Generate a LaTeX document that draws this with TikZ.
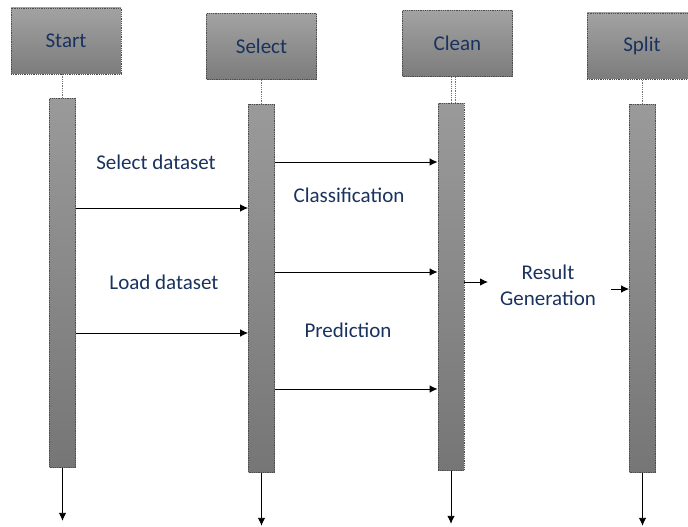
\documentclass[tikz,border=0pt]{standalone}
\usepackage{fontspec}
\setmainfont{Carlito}
\usetikzlibrary{arrows.meta,positioning,calc}
\definecolor{navy}{RGB}{26,50,94}
\definecolor{steel}{RGB}{162,162,162}
\definecolor{slate}{RGB}{124,124,124}
\tikzset{
  >={Latex[length=8pt,width=7.5pt]},
  head/.style={draw=black!70,densely dotted,line width=0.8pt,top color=steel,bottom color=slate,
    minimum width=110pt,minimum height=66pt,inner sep=0pt,
    font=\fontsize{21}{26}\selectfont,text=navy},
  bar/.style={draw=black!70,densely dotted,line width=0.8pt,top color=steel!95!black,bottom color=slate!95!black,
    minimum width=26pt,anchor=north,inner sep=0pt},
  life/.style={draw=black!55,densely dotted,line width=0.8pt},
  msg/.style={->,line width=0.9pt,black},
  tag/.style={font=\fontsize{21}{26}\selectfont,text=navy,align=center},
}
\begin{document}
\begin{tikzpicture}[x=1pt,y=-1pt]
  \clip (0,0) rectangle (688,527);
  % lifelines
  \foreach \n/\t/\x/\y/\bx/\top/\bot in {st/Start/66/41/62.5/98/467,se/Select/261.5/46.5/261.5/104/472,
      cl/Clean/457.5/43.5/451/103/470,sp/Split/642/46/642.5/104/472}{
    \node[head] (\n) at (\x,\y) {\t};
    \node[bar,minimum height=\bot-\top] (\n-bar) at (\bx,\top) {};
    \draw[life] (\n-bar.north) -- (\n-bar.north |- \n.south);
    \draw[msg] (\n-bar.south) -- ++(0,53);
  }
  \draw[life] ([xshift=4pt]cl-bar.north) -- ([xshift=4pt]cl-bar.north |- cl.south);
  % messages
  \draw[msg] (st-bar.east |- 0,208) -- (se-bar.west |- 0,208);
  \draw[msg] (st-bar.east |- 0,333) -- (se-bar.west |- 0,333);
  \foreach \y in {162,272,389}
    \draw[msg] (se-bar.east |- 0,\y) -- (cl-bar.west |- 0,\y);
  \coordinate (res out) at (488,282);
  \coordinate (res in) at (611,289);
  \draw[msg] (cl-bar.east |- res out) -- (res out);
  \draw[msg] (res in) -- (sp-bar.west |- res in);
  % labels
  \node[tag] (seldata) at (156,162) {Select dataset};
  \node[tag] (loaddata) at (164,282) {Load dataset};
  \node[tag] (classif) at (349,195) {Classification};
  \node[tag] (predict) at (348,330) {Prediction};
  \node[tag] (result) at (548,285) {Result\\Generation};
\end{tikzpicture}
\end{document}
